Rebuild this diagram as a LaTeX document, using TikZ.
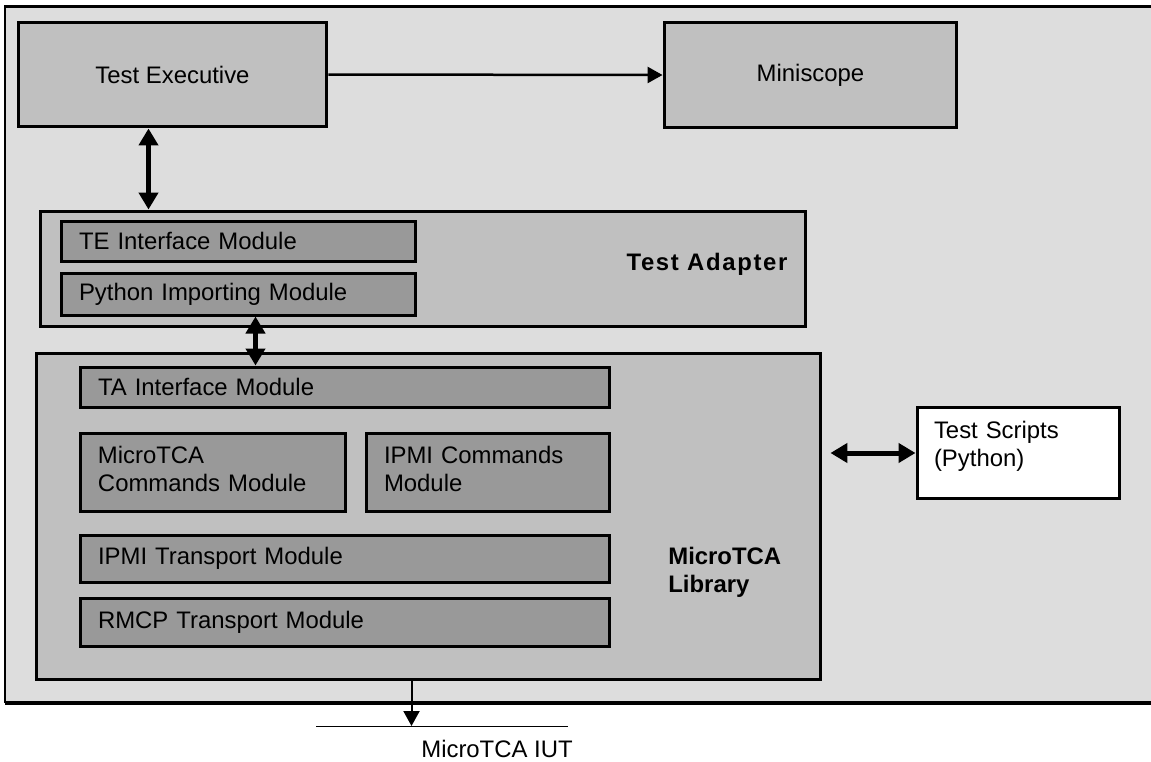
\documentclass[tikz,border=0pt]{standalone}
\usepackage{fontspec}
\setmainfont{Liberation Sans}
\usetikzlibrary{arrows.meta}
\definecolor{framegray}{RGB}{221,221,221}
\definecolor{boxgray}{RGB}{192,192,192}
\definecolor{modgray}{RGB}{153,153,153}

\tikzset{
    mainbox/.style={draw, line width=0.06cm, fill=boxgray, inner sep=0pt},
    modbox/.style={draw, line width=0.06cm, fill=modgray, inner xsep=0.36cm, inner ysep=0pt, align=left},
    blocktitle/.style={font=\fontsize{13.6}{15.8}\selectfont\bfseries, inner sep=0pt},
    thinarrow/.style={line width=0.05cm, -{Triangle[length=0.3cm, width=0.32cm]}},
    dblarrow/.style={line width=0.1cm, {Triangle[length=0.34cm, width=0.38cm]}-{Triangle[length=0.34cm, width=0.38cm]}}
}

\begin{document}
\begin{tikzpicture}[x=0.02cm, y=-0.02cm, font=\fontsize{13.6}{15.8}\selectfont]
    \useasboundingbox (0,0) rectangle (1151,761);
    % Frame
    \fill[framegray] (5,6) rectangle (1151,703);
    \draw[line width=0.06cm] (1151,6) -- (5,6) -- (5,703);
    \draw[line width=0.09cm] (5,703) -- (1151,703);

    % Top row
    \node[mainbox, minimum width=6.18cm, minimum height=2.1cm] (texec) at (172.5,74.5) {Test Executive};
    \node[mainbox, minimum width=5.86cm, minimum height=2.12cm] (mscope) at (810.5,75) {Miniscope};

    % Test adapter
    \node[mainbox, minimum width=15.32cm, minimum height=2.32cm] (adapter) at (423,269) {};
    \node[modbox, text width=6.38cm, minimum height=0.8cm] (teif) at (238.5,241) {TE Interface Module};
    \node[modbox, text width=6.38cm, minimum height=0.84cm] (pyimp) at (238.5,294) {Python Importing Module};
    \node[blocktitle, font=\fontsize{13.6}{15.8}\selectfont\bfseries\addfontfeature{LetterSpace=7}] (adaptername) at (707,264) {Test Adapter};

    % MicroTCA library
    \node[mainbox, minimum width=15.7cm, minimum height=6.54cm] (lib) at (428.5,516.5) {};
    \node[modbox, text width=9.88cm, minimum height=0.8cm] (taif) at (345,387) {TA Interface Module};
    \node[modbox, text width=4.6cm, text height=0.61cm, text depth=0.97cm, anchor=north west] (mtcacmd) at (78.5,431.5) {MicroTCA\\Commands Module};
    \node[modbox, text width=4.16cm, text height=0.61cm, text depth=0.97cm, anchor=north west] (ipmicmd) at (364.5,431.5) {IPMI Commands\\Module};
    \node[modbox, text width=9.88cm, minimum height=0.94cm] (ipmitr) at (345,558.5) {IPMI Transport Module};
    \node[modbox, text width=9.88cm, minimum height=0.96cm] (rmcptr) at (345,622) {RMCP Transport Module};
    \node[blocktitle, align=left, anchor=west] (libname) at (668,572) {MicroTCA\\Library};

    % Scripts
    \node[draw, line width=0.06cm, fill=white, inner xsep=0.34cm, inner ysep=0pt, text width=3.38cm,
          text height=0.63cm, text depth=1.21cm, align=left, anchor=north west] (scripts) at (915.5,405.5) {Test Scripts\\(Python)};

    % Connections
    \draw[thinarrow] (texec.east) -- (mscope.west);
    \draw[dblarrow] ([xshift=2.64cm]texec.south west) -- ([xshift=2.64cm]texec.south west |- adapter.north);
    \draw[dblarrow] ([xshift=3.92cm]pyimp.south west) -- ([xshift=3.92cm]pyimp.south west |- taif.north);
    \draw[dblarrow, shorten <=0.16cm] (lib.east |- scripts.west) -- (scripts.west);

    % Unit under test
    \coordinate (iutl) at (316,726);
    \coordinate (iutr) at (568,726);
    \draw[line width=0.02cm] (iutl) -- (iutr);
    \draw[thinarrow, line width=0.04cm] ([xshift=7.54cm]lib.south west) -- ([xshift=7.54cm]lib.south west |- iutl);
    \node (iut) at (497,749) {MicroTCA IUT};
\end{tikzpicture}
\end{document}
